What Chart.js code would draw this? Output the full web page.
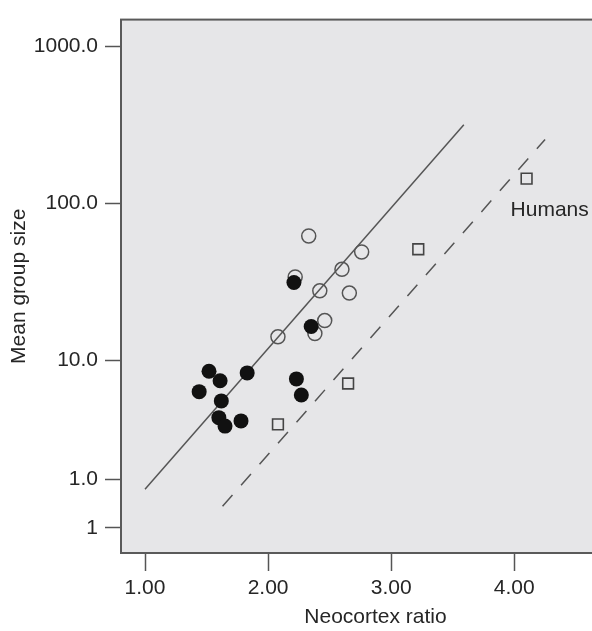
<!DOCTYPE html>
<html>
<head>
<meta charset="utf-8">
<script src="https://cdn.jsdelivr.net/npm/chart.js@4"></script>
<style>
  html, body { margin: 0; padding: 0; background: #fff; overflow: hidden; }
  #box { width: 592px; height: 631px; overflow: hidden; }
</style>
</head>
<body>
<div id="box"><canvas id="groupChart" width="640" height="631"></canvas></div>
<script>
// neocortex ratio vs mean group size
var filledX = [2.21, 2.35, 1.52, 1.61, 1.83, 1.44, 1.62, 1.60, 1.65, 1.78, 2.23, 2.27];
var filledY = [31.3, 16.4, 8.5, 7.4, 8.3, 6.3, 5.5, 4.3, 3.8, 4.1, 7.6, 6.0];

var openX = [2.33, 2.22, 2.76, 2.60, 2.42, 2.66, 2.46, 2.38, 2.08];
var openY = [62, 34, 49, 38, 27.7, 26.8, 17.9, 14.8, 14.1];

var squareX = [2.08, 2.65, 3.22, 4.10];
var squareY = [3.9, 7.1, 51, 144];
var squareNames = ['', '', '', 'Humans'];

// fitted lines (two end points each)
var solidX = [1.00, 3.59];
var solidY = [1.50, 318];
var dashX = [1.63, 4.25];
var dashY = [1.17, 256];

var xTicks = [1, 2, 3, 4];
var xTickLabels = ['1.00', '2.00', '3.00', '4.00'];
var yTicks = [1000, 100, 10, 1.73, 0.853];
var yTickLabels = ['1000.0', '100.0', '10.0', '1.0', '1'];

function toPoints(xs, ys) {
	var pts = [];
	for (var i = 0; i < xs.length; i++) {
		pts.push({ x: xs[i], y: ys[i] });
	}
	return pts;
}

var FONT = "'Liberation Sans', Arial, sans-serif";
var TEXT = '#262626';
var LINE = '#555';

// grey panel behind the points and a frame around it
var panel = {
	id: 'panel',
	beforeDatasetsDraw: function(chart) {
		var a = chart.chartArea, c = chart.ctx;
		c.save();
		c.fillStyle = '#e6e6e8';
		c.fillRect(a.left, a.top, a.right - a.left, a.bottom - a.top);
		c.restore();
	},
	afterDraw: function(chart) {
		var a = chart.chartArea, c = chart.ctx;
		c.save();
		c.strokeStyle = '#5a5a5a';
		c.lineWidth = 2;
		c.strokeRect(a.left, a.top, a.right - a.left, a.bottom - a.top);

		// name next to a square point
		var xs = chart.scales.x, ys = chart.scales.y;
		c.font = '21px ' + FONT;
		c.fillStyle = TEXT;
		c.textBaseline = 'alphabetic';
		for (var i = 0; i < squareNames.length; i++) {
			if (!squareNames[i]) continue;
			var px = xs.getPixelForValue(squareX[i]);
			var py = ys.getPixelForValue(squareY[i]);
			c.fillText(squareNames[i], px - 16, py + 37);
		}
		c.restore();
	}
};

function drawGroupChart(ctx) {
	return new Chart(ctx, {
		type: 'scatter',
		data: {
			datasets: [{
				data: toPoints(filledX, filledY),
				pointStyle: 'circle',
				pointRadius: 7.5,
				backgroundColor: '#111',
				borderColor: '#111',
				borderWidth: 0
			}, {
				data: toPoints(openX, openY),
				pointStyle: 'circle',
				pointRadius: 7,
				backgroundColor: 'rgba(0,0,0,0)',
				borderColor: '#555',
				borderWidth: 1.5
			}, {
				data: toPoints(squareX, squareY),
				pointStyle: 'rect',
				pointRadius: 7.6,
				backgroundColor: 'rgba(0,0,0,0)',
				borderColor: '#444',
				borderWidth: 1.6
			}, {
				type: 'line',
				data: toPoints(solidX, solidY),
				borderColor: LINE,
				borderWidth: 1.5,
				pointRadius: 0,
				fill: false
			}, {
				type: 'line',
				data: toPoints(dashX, dashY),
				borderColor: LINE,
				borderWidth: 1.5,
				borderDash: [15, 13],
				pointRadius: 0,
				fill: false
			}]
		},
		options: {
			responsive: false,
			animation: false,
			devicePixelRatio: 1,
			layout: { padding: { top: 12, right: 10, bottom: 0, left: 0 } },
			plugins: {
				legend: { display: false },
				tooltip: { enabled: false }
			},
			scales: {
				x: {
					type: 'linear',
					min: 0.805,
					max: 4.94,
					afterBuildTicks: function(scale) {
						scale.ticks = xTicks.map(function(v) { return { value: v }; });
					},
					afterFit: function(scale) { scale.height = 78; },
					border: { display: false },
					grid: {
						drawOnChartArea: false,
						drawTicks: true,
						tickLength: 18,
						tickColor: LINE,
						tickWidth: 1.5
					},
					ticks: {
						padding: 5,
						color: TEXT,
						font: { family: FONT, size: 21 },
						maxRotation: 0,
						callback: function(v, i) { return xTickLabels[i]; }
					},
					title: {
						display: true,
						text: 'Neocortex ratio',
						color: TEXT,
						font: { family: FONT, size: 21 },
						padding: { top: 0, bottom: 1 }
					}
				},
				y: {
					type: 'logarithmic',
					min: 0.589,
					max: 1489,
					afterBuildTicks: function(scale) {
						scale.ticks = yTicks.map(function(v) { return { value: v }; });
					},
					afterFit: function(scale) { scale.width = 121; },
					border: { display: false },
					grid: {
						drawOnChartArea: false,
						drawTicks: true,
						tickLength: 16,
						tickColor: LINE,
						tickWidth: 1.5
					},
					ticks: {
						padding: 7,
						color: TEXT,
						font: { family: FONT, size: 21 },
						callback: function(v, i) { return yTickLabels[i]; }
					},
					title: {
						display: true,
						text: 'Mean group size',
						color: TEXT,
						font: { family: FONT, size: 21 },
						padding: { top: 7, bottom: 0 }
					}
				}
			}
		},
		plugins: [panel]
	});
}

drawGroupChart(document.getElementById('groupChart'));
</script>
</body>
</html>
